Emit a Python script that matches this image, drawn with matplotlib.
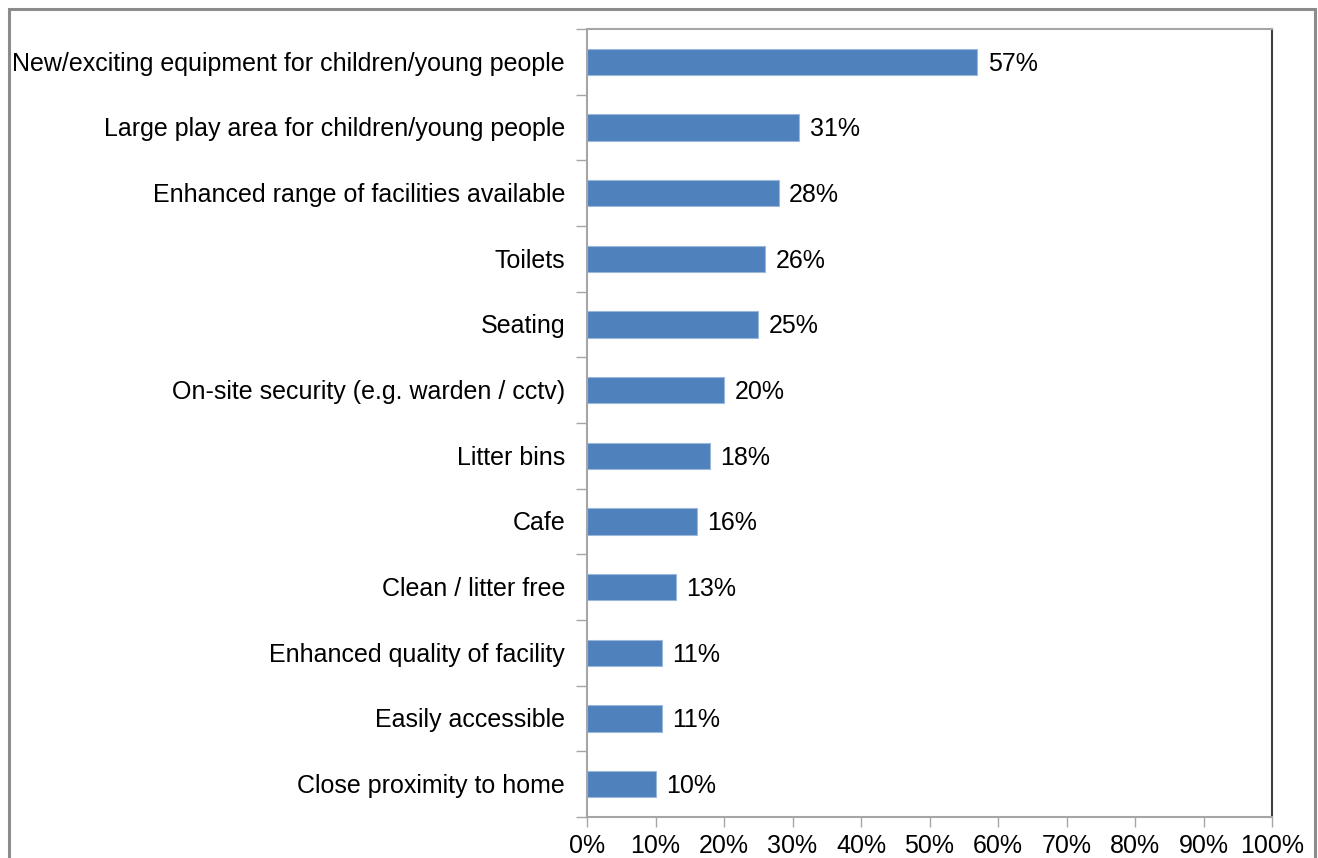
import matplotlib
matplotlib.use("Agg")
import matplotlib.pyplot as plt
from matplotlib.patches import Rectangle
from matplotlib.ticker import FixedLocator, NullLocator

plt.rcParams['font.family'] = ['Liberation Sans', 'DejaVu Sans']

categories = [
    "New/exciting equipment for children/young people",
    "Large play area for children/young people",
    "Enhanced range of facilities available",
    "Toilets",
    "Seating",
    "On-site security (e.g. warden / cctv)",
    "Litter bins",
    "Cafe",
    "Clean / litter free",
    "Enhanced quality of facility",
    "Easily accessible",
    "Close proximity to home",
]
values = [57, 31, 28, 26, 25, 20, 18, 16, 13, 11, 11, 10]
x_ticks = [0, 10, 20, 30, 40, 50, 60, 70, 80, 90, 100]
x_tick_labels = [f"{t}%" for t in x_ticks]

W, H = 1318, 858
fig = plt.figure(figsize=(W / 100, H / 100), dpi=100)

# outer chart frame
fig.add_artist(Rectangle((8.5 / W, -0.1), (1314.5 - 8.5) / W, 1.1 - 9.5 / H,
                         transform=fig.transFigure, fill=False,
                         edgecolor="#8c8c8c", linewidth=2.2))

left, right, top, bottom = 587, 1272, 29, 817
ax = fig.add_axes([left / W, 1 - bottom / H, (right - left) / W, (bottom - top) / H])

n = len(categories)
ypos = list(range(n))
ax.barh(ypos, values, height=0.4, color="#4F81BD", edgecolor="#9bb7d9", linewidth=0.8)

ax.set_xlim(0, 100)
ax.set_ylim(n - 0.5, -0.5)

fs = 18
for y, v in zip(ypos, values):
    ax.text(v + 1.5, y + 0.03, f"{v}%", va="center", ha="left", fontsize=fs, color="#000000")

# category labels placed beside the axis; ticks sit between categories
for y, c in zip(ypos, categories):
    ax.text(-3.2, y + 0.03, c, va="center", ha="right", fontsize=fs, color="#000000",
            transform=ax.transData)
ax.yaxis.set_major_locator(FixedLocator([i - 0.5 for i in range(n + 1)]))
ax.set_yticklabels([])
ax.tick_params(axis="y", length=8, width=1, color="#a6a6a6", direction="out")

ax.xaxis.set_major_locator(FixedLocator(x_ticks))
ax.set_xticklabels(x_tick_labels, fontsize=fs)
ax.tick_params(axis="x", length=7, width=1, color="#a6a6a6", direction="out", pad=5)
ax.xaxis.set_minor_locator(NullLocator())

for s in ("left", "bottom", "top"):
    ax.spines[s].set_color("#a6a6a6")
    ax.spines[s].set_linewidth(1.5)
ax.spines["right"].set_color("#404040")
ax.spines["right"].set_linewidth(1.5)

fig.savefig("out.png", dpi=100)
